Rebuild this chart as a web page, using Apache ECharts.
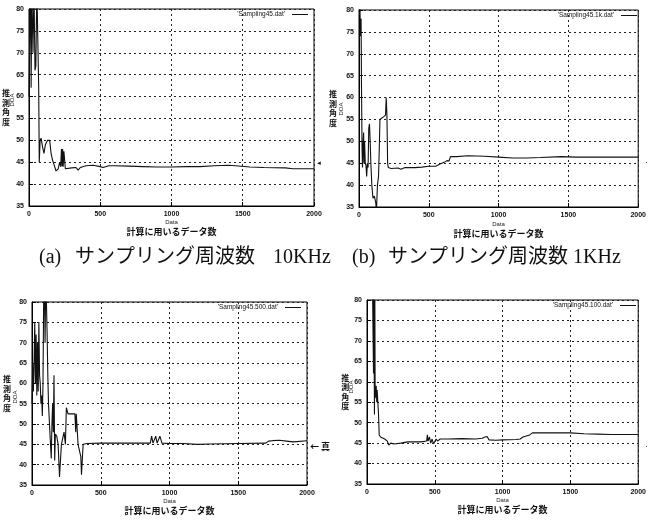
<!DOCTYPE html>
<html><head><meta charset="utf-8">
<script src="https://cdn.jsdelivr.net/npm/echarts@6/dist/echarts.min.js"></script>
<style>html,body{margin:0;padding:0;background:#fff}#c{width:649px;height:524px}</style>
</head><body><div id="c"></div>
<script>
// ---- data (x = number of samples used, y = estimated DOA in degrees) ----
const seriesNames = ["'Sampling45.dat'", "'Sampling45.1k.dat'", "'Sampling45.500.dat'", "'Sampling45.100.dat'"];
const captionParts = [["(a)", "サンプリング周波数", "10KHz"], ["(b)", "サンプリング周波数", "1KHz"]];
const yAxisTitle = "推測角度";
const xAxisTitle = "計算に用いるデータ数";
const xTicks = [0, 500, 1000, 1500, 2000];
const yTicks = [35, 40, 45, 50, 55, 60, 65, 70, 75, 80];

const dataA = [[0,60],[5,75],[10,85],[15,62],[20,85],[28,70],[35,85],[42,66],[48,67],[55,85],[62,85],[68,62],[72,45],[78,50],[85,50.5],[95,48.5],[105,47],[115,49],[130,50],[145,50],[155,47],[165,45.5],[175,44.5],[190,43],[205,43.5],[215,45],[222,44],[228,48],[232,44],[236,48],[240,44],[245,47.5],[255,43.5],[300,43.7],[330,43.8],[345,43.2],[360,43.8],[400,44.2],[450,44.3],[500,44],[520,43.8],[560,44.2],[600,44.2],[700,44.1],[800,44],[900,43.9],[1000,43.9],[1100,44],[1200,44],[1300,44.2],[1400,44.3],[1450,44.2],[1550,43.9],[1650,43.8],[1800,43.7],[1850,43.5],[2000,43.5]];

const dataB = [[0,80],[5,85],[10,74],[15,78],[18,62],[22,48],[25,44],[30,50],[33,52],[36,45],[40,50],[45,45],[50,44.5],[55,42],[60,45],[65,44],[70,53],[75,54],[80,50],[85,45],[92,40],[100,37],[110,37.5],[120,36],[125,34],[132,40],[140,42],[145,48],[150,55],[160,55.3],[175,55.6],[190,56],[195,60],[200,56],[205,45],[210,44],[230,43.8],[280,43.9],[300,43.6],[330,44],[400,44],[450,44.1],[500,44.3],[550,44.3],[580,44.8],[610,45.2],[630,45.6],[645,45.5],[655,46.5],[665,46.2],[700,46.5],[780,46.7],[900,46.6],[1000,46.4],[1100,46.2],[1200,46.2],[1300,46.3],[1450,46.5],[1550,46.4],[1700,46.4],[2000,46.4]];

const dataC = [[0,55],[5,65],[10,58],[15,65],[20,75],[25,60],[30,72],[35,57],[40,70],[45,58],[50,75],[55,62],[60,60],[65,55],[70,57],[75,52],[80,60],[85,82],[90,85],[95,70],[100,85],[105,80],[110,72],[115,62],[120,55],[130,48],[140,41.5],[145,50],[150,55],[155,48],[160,62],[165,41],[170,47.5],[180,47],[190,45],[200,37],[214,45],[226,45],[233,48],[243,45],[250,54],[262,52.5],[290,52.5],[312,52.5],[318,48],[322,52.5],[330,52.5],[335,45],[347,45],[355,42],[360,37.5],[372,45],[400,45.2],[500,45.3],[700,45.3],[860,45.3],[870,47],[880,45.3],[900,47],[910,45.3],[930,47],[945,45.3],[1000,45.2],[1100,45.2],[1200,45],[1300,45.1],[1500,45.2],[1700,45.3],[1720,45.8],[1750,45.9],[1800,46],[1850,45.8],[1900,45.6],[2000,45.9]];

const dataD = [[0,85],[40,85],[48,62],[50,85],[55,52],[58,80],[60,56],[65,57],[68,59],[72,55],[75,58],[80,55],[85,52],[90,47],[100,46.5],[130,46],[150,45.5],[160,44.5],[175,45],[185,45.3],[200,44.8],[250,45],[300,45.3],[400,45.3],[440,45.5],[445,47],[450,45.5],[460,46.5],[470,45],[480,46],[490,44.8],[500,45],[510,46],[520,45.5],[540,46],[600,46],[700,46.1],[800,46],[850,46.2],[870,46.5],[885,46.6],[900,45.8],[950,45.7],[1000,45.8],[1100,45.9],[1130,46],[1150,46.5],[1200,47],[1220,47.5],[1300,47.5],[1400,47.5],[1500,47.5],[1600,47.3],[1700,47.2],[1800,47.1],[2000,47.1]];

const allData = [dataA, dataB, dataC, dataD];

// ---- layout (styles/positions only) ----
const W = 649;
const grids = [
  {left: 28, top: 9, width: 286, height: 197},
  {left: 359, top: 10, width: 284, height: 197},
  {left: 32, top: 302, width: 275, height: 183},
  {left: 367, top: 300, width: 275, height: 184}
];
const yNameGap = [23, 26, 25, 21];
const xNameGap = [12, 13, 12, 12];
const doaPos = [[12, 100], [341, 109], [15, 397], [351, 387]];
const captionX = [[39, 75, 273], [352, 388, 573]];

const fontLatin = "'Liberation Sans', Arial, sans-serif";
const fontJP = "'Noto Sans CJK JP', sans-serif";
const fontCap = "'Liberation Serif', 'Noto Sans CJK JP', serif";
const tickFont = {fontSize: 7, fontWeight: 'bold', color: '#111', fontFamily: fontLatin};

const chart = echarts.init(document.getElementById('c'), null, {renderer: 'canvas'});

const captionGraphics = [];
captionParts.forEach((parts, r) => parts.forEach((t, k) => captionGraphics.push({
  type: 'text', left: captionX[r][k], top: 248,
  style: {text: t, fontSize: 20, fontFamily: fontCap, fill: '#111'}
})));

const option = {
  animation: false,
  backgroundColor: '#fff',
  grid: grids.map(g => Object.assign({show: true, borderColor: '#000', borderWidth: 1, backgroundColor: 'transparent', containLabel: false}, g)),
  xAxis: grids.map((g, i) => ({
    type: 'value', gridIndex: i, min: xTicks[0], max: xTicks[xTicks.length - 1], interval: 500,
    axisLine: {show: true, onZero: false, lineStyle: {color: '#000', width: 1}},
    axisTick: {show: true, inside: true, length: 4, lineStyle: {color: '#000'}},
    axisLabel: Object.assign({margin: 5, showMaxLabel: true, showMinLabel: true, formatter: v => String(v)}, tickFont),
    splitLine: {show: true, lineStyle: {color: '#222', type: [2, 3], width: 1}},
    name: '{a|Data}\n{b|' + xAxisTitle + '}',
    nameLocation: 'middle', nameGap: xNameGap[i],
    nameTextStyle: {
      verticalAlign: 'top',
      rich: {
        a: {fontSize: 6, fontFamily: fontLatin, color: '#222', lineHeight: 8, align: 'center'},
        b: {fontSize: 9, fontWeight: 'bold', fontFamily: fontJP, color: '#111', lineHeight: 11, align: 'center'}
      }
    }
  })),
  yAxis: grids.map((g, i) => ({
    type: 'value', gridIndex: i, min: yTicks[0], max: yTicks[yTicks.length - 1], interval: 5,
    axisLine: {show: true, onZero: false, lineStyle: {color: '#000', width: 1}},
    axisTick: {show: true, inside: true, length: 4, lineStyle: {color: '#000'}},
    axisLabel: Object.assign({margin: 5}, tickFont),
    splitLine: {show: true, lineStyle: {color: '#222', type: [2, 3], width: 1}},
    name: yAxisTitle.split('').join('\n'),
    nameLocation: 'middle', nameRotate: 0, nameGap: yNameGap[i],
    nameTextStyle: {fontSize: 8, fontWeight: 'bold', fontFamily: fontJP, color: '#111', lineHeight: 9.5, align: 'center', verticalAlign: 'middle'}
  })),
  legend: grids.map((g, i) => ({
    show: true,
    data: [seriesNames[i]],
    right: W - (g.left + g.width - 6),
    top: g.top + 2,
    align: 'right',
    orient: 'horizontal',
    icon: 'rect',
    itemWidth: 16, itemHeight: 1,
    itemGap: 2,
    padding: 0,
    textStyle: {fontSize: 6.5, fontFamily: fontLatin, color: '#111', padding: [0, 2, 0, 0]},
    selectedMode: false
  })),
  series: allData.map((d, i) => ({
    type: 'line', name: seriesNames[i], xAxisIndex: i, yAxisIndex: i,
    data: d, showSymbol: false, symbol: 'none', clip: true,
    lineStyle: {color: '#111', width: 1.1},
    itemStyle: {color: '#111'}
  })),
  graphic: [
    ...captionGraphics,
    ...doaPos.map(p => ({type: 'text', x: p[0], y: p[1], rotation: Math.PI / 2,
      style: {text: 'DOA', fontSize: 6, fontFamily: fontLatin, fill: '#222', align: 'center', verticalAlign: 'middle'}})),
    {type: 'text', x: 316, y: 163, style: {text: '◄', fontSize: 6, fill: '#111', align: 'left', verticalAlign: 'middle'}},
    {type: 'text', x: 645, y: 163, style: {text: '·', fontSize: 8, fill: '#111', align: 'left', verticalAlign: 'middle'}},
    {type: 'text', x: 310, y: 447, style: {text: '← 真', fontSize: 9, fontWeight: 'bold', fontFamily: fontJP, fill: '#111', align: 'left', verticalAlign: 'middle'}},
    {type: 'text', x: 645, y: 447, style: {text: '·', fontSize: 8, fill: '#111', align: 'left', verticalAlign: 'middle'}}
  ]
};
chart.setOption(option);
</script>
</body></html>
